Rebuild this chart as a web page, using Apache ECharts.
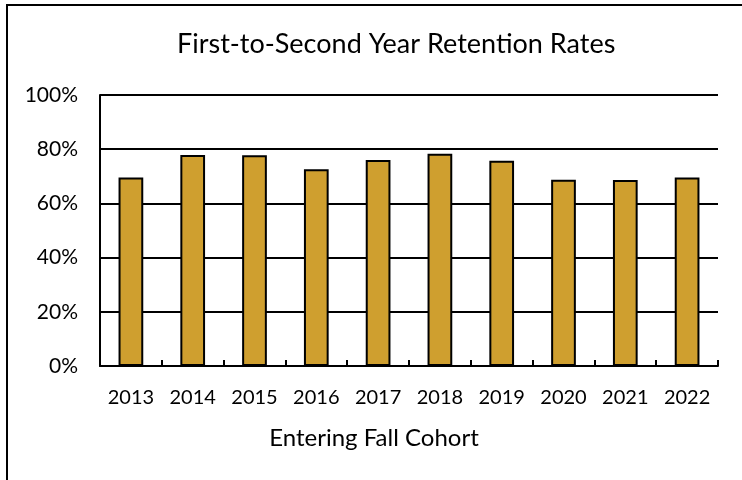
<!DOCTYPE html>
<html>
<head>
<meta charset="utf-8">
<script src="https://cdn.jsdelivr.net/npm/echarts@6/dist/echarts.min.js"></script>
<style>
  html, body { margin: 0; padding: 0; background: #fff; }
  #chart { width: 742px; height: 480px; }
</style>
</head>
<body>
<div id="chart"></div>
<script>
let years = ['2013', '2014', '2015', '2016', '2017', '2018', '2019', '2020', '2021', '2022'];
let retention = [69.6, 77.9, 77.8, 72.6, 76.0, 78.3, 75.7, 68.7, 68.6, 69.6];
let yTicks = [0, 20, 40, 60, 80, 100];

let fontName = 'Lato';

let option = {
    animation: false,
    textStyle: { fontFamily: fontName, color: '#000' },
    title: {
        text: 'First-to-Second Year Retention Rates',
        left: 172,
        top: 26,
        textStyle: { fontFamily: fontName, fontSize: 27, fontWeight: 'normal', color: '#000' }
    },
    // outer chart frame, runs off the right and bottom of the picture
    graphic: [{
        type: 'rect',
        shape: { x: 7, y: 5, width: 760, height: 500 },
        style: { fill: null, stroke: '#000', lineWidth: 2 },
        silent: true
    }],
    grid: {
        left: 100,
        right: 24,
        top: 95,
        bottom: 114
    },
    xAxis: {
        type: 'category',
        data: years,
        name: 'Entering Fall Cohort',
        nameLocation: 'middle',
        nameGap: 60,
        nameTextStyle: {
            fontFamily: fontName,
            fontSize: 24,
            color: '#000',
            padding: [0, 70, 0, 0]
        },
        axisLine: { show: true, lineStyle: { color: '#000', width: 2 } },
        axisTick: { show: true, inside: true, length: 6, lineStyle: { color: '#000', width: 2 } },
        axisLabel: { fontFamily: fontName, fontSize: 20, color: '#000', margin: 22 }
    },
    yAxis: {
        type: 'value',
        min: yTicks[0],
        max: yTicks[yTicks.length - 1],
        interval: 20,
        axisLine: { show: true, lineStyle: { color: '#000', width: 2 } },
        axisTick: { show: false },
        splitLine: { show: true, lineStyle: { color: '#000', width: 2 } },
        axisLabel: {
            fontFamily: fontName,
            fontSize: 21,
            color: '#000',
            margin: 22,
            formatter: '{value}%'
        }
    },
    series: [{
        name: 'Retention',
        type: 'bar',
        data: retention,
        barWidth: '40%',
        itemStyle: {
            color: '#CF9F2F',
            borderColor: '#000',
            borderWidth: 2
        }
    }]
};

let chart = echarts.init(document.getElementById('chart'));
chart.setOption(option);
</script>
</body>
</html>
